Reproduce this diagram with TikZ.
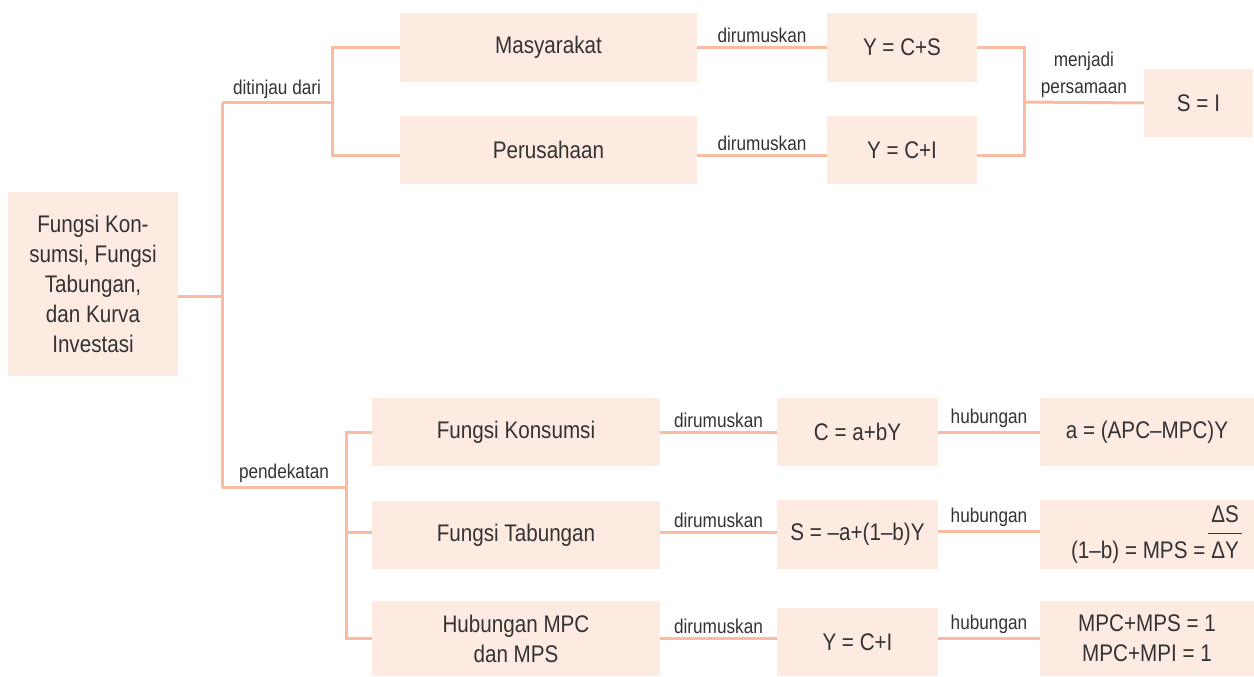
\documentclass[tikz,border=0pt]{standalone}
\usepackage{fontspec}
\setmainfont{Liberation Sans}[FakeStretch=0.86]
\usetikzlibrary{positioning}
\definecolor{boxfill}{HTML}{FDEAE1}
\definecolor{linecol}{HTML}{F9BBA1}
\definecolor{txtcol}{HTML}{333333}
\tikzset{
  box/.style={fill=boxfill, text=txtcol, inner sep=0pt, align=center,
    font=\fontsize{24}{30}\selectfont},
  link/.style={draw=linecol, line width=3pt},
  lbl/.style={text=txtcol, inner sep=3pt, align=center,
    font=\fontsize{20}{27}\selectfont}
}
\begin{document}
\begin{tikzpicture}[x=1pt,y=-1pt]
  \useasboundingbox (0,0) rectangle (1254,677);
  % main box
  \node[box, minimum width=170pt, minimum height=184pt] (root) at (93,284)
    {Fungsi Kon-\\sumsi, Fungsi\\Tabungan,\\dan Kurva\\Investasi};
  % upper branch
  \node[box, minimum width=297pt, minimum height=69pt] (mas) at (548.5,47.5) {Masyarakat};
  \node[box, minimum width=297pt, minimum height=68pt] (per) at (548.5,150) {Perusahaan};
  \node[box, minimum width=150pt, minimum height=69pt] (ycs) at (902,47.5) {Y = C+S};
  \node[box, minimum width=150pt, minimum height=68pt] (yci) at (902,150) {Y = C+I};
  \node[box, minimum width=109pt, minimum height=68pt] (si) at (1198.5,103) {S = I};
  % lower branch
  \node[box, minimum width=288pt, minimum height=68pt] (fk) at (516,432) {Fungsi Konsumsi};
  \node[box, minimum width=288pt, minimum height=68pt] (ft) at (516,535) {Fungsi Tabungan};
  \node[box, minimum width=288pt, minimum height=75pt] (hm) at (516,638.5) {Hubungan MPC\\dan MPS};
  \node[box, minimum width=161pt, minimum height=68pt] (cab) at (857.5,432) {C = a+bY};
  \node[box, minimum width=161pt, minimum height=69pt] (sab) at (857.5,534.5) {S = –a+(1–b)Y};
  \node[box, minimum width=161pt, minimum height=68pt] (yci2) at (857.5,642) {Y = C+I};
  \node[box, minimum width=214pt, minimum height=68pt] (ra) at (1147,432) {a = (APC–MPC)Y};
  \node[box, minimum width=214pt, minimum height=69pt] (rb) at (1147,534.5)
    {\hspace{19pt}(1–b) = MPS =\hspace{3pt}\begin{tabular}[b]{@{\hspace{3pt}}c@{\hspace{3pt}}}ΔS\\[1pt]\hline\rule{0pt}{25pt}ΔY\end{tabular}};
  \node[box, minimum width=214pt, minimum height=75pt] (rc) at (1147,638.5) {MPC+MPS = 1\\MPC+MPI = 1};
  % junctions
  \coordinate (t0) at (222,296);
  \coordinate (tu) at (222,103);
  \coordinate (td) at (222,487);
  \coordinate (bu) at (332,103);
  \coordinate (bd) at (346,487);
  \coordinate (jm) at (1024,102);
  % connectors
  \draw[link] ([yshift=-12pt]root.east) -- (t0);
  \draw[link] (tu) -- (td);
  \draw[link] (tu) -- node[lbl, above] (l1) {ditinjau dari} (bu);
  \draw[link] (mas.west) -| (bu) |- ([yshift=-5pt]per.west);
  \draw[link] (mas.east) -- node[lbl, above] (l2) {dirumuskan} (ycs.west);
  \draw[link] ([yshift=-5pt]per.east) -- node[lbl, above] (l3) {dirumuskan} ([yshift=-5pt]yci.west);
  \draw[link] (ycs.east) -| (jm) |- ([yshift=-5pt]yci.east);
  \draw[link] (jm) -- node[lbl, above] (l4) {menjadi\\persamaan} (si.west);
  \draw[link] (td) -- node[lbl, above] (l5) {pendekatan} (bd);
  \draw[link] (fk.west) -| (bd) |- (hm.west);
  \draw[link] ([yshift=3pt]ft.west) -- ([yshift=3pt]ft.west -| bd);
  \draw[link] (fk.east) -- node[lbl, above] (l6) {dirumuskan} (cab.west);
  \draw[link] ([yshift=3pt]ft.east) -- node[lbl, above] (l7) {dirumuskan} ([yshift=3pt]ft.east -| sab.west);
  \draw[link] (hm.east) -- node[lbl, above] (l8) {dirumuskan} (hm.east -| yci2.west);
  \draw[link] (cab.east) -- node[lbl, above] (l9) {hubungan} (ra.west);
  \draw[link] ([yshift=3pt]sab.east) -- node[lbl, above] (l10) {hubungan} ([yshift=3pt]sab.east -| rb.west);
  \draw[link] (hm.east -| yci2.east) -- node[lbl, above] (l11) {hubungan} (rc.west);
\end{tikzpicture}
\end{document}
